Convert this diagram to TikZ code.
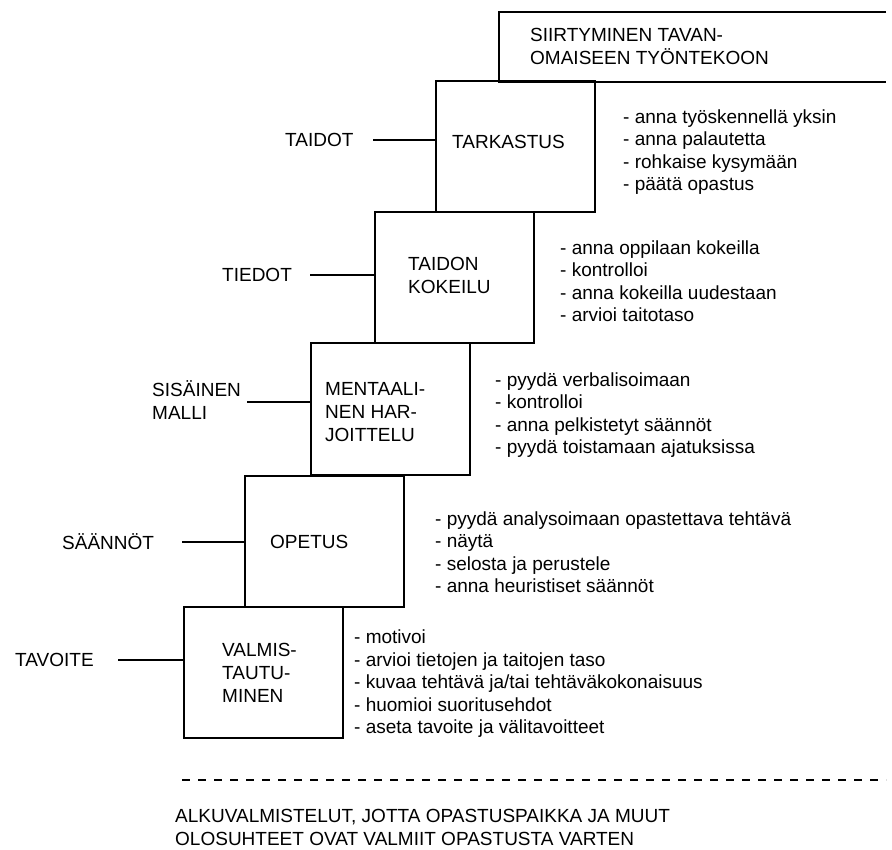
\documentclass[tikz,border=0pt]{standalone}
\usepackage{fontspec}
\setmainfont{Liberation Sans}
\begin{document}
\begin{tikzpicture}[x=1pt,y=-1pt,
  stage/.style={draw, line width=2pt, inner sep=0pt, minimum width=159pt, minimum height=131pt},
  txt/.style={anchor=west, align=left, inner sep=0pt, font=\fontsize{19}{22.5}\selectfont},
  btxt/.style={anchor=west, align=left, inner sep=0pt, font=\fontsize{19}{23}\selectfont},
  conn/.style={line width=2pt},
  dashline/.style={line width=2pt, dash pattern=on 8pt off 8pt}]
\useasboundingbox (0,0) rectangle (892,850);

% stage boxes
\node[stage] (tark) at (515.5,147) {};
\node[stage] (taid) at (454,277.5) {};
\node[stage] (ment) at (390.5,409) {};
\node[stage] (opet) at (324,541.5) {};
\node[stage] (valm) at (263.5,672.5) {};

% top open box
\coordinate (ta) at (886,12);
\coordinate (tb) at (499,12);
\coordinate (tc) at (499,82);
\coordinate (td) at (886,82);
\draw[conn] (ta) -- (tb) -- (tc) -- (td);
\node[btxt] (trans) at (530,46) {SIIRTYMINEN TAVAN-\\OMAISEEN TYÖNTEKOON};

% box labels
\node[btxt] (ltark) at (452,142) {TARKASTUS};
\node[btxt] (ltaid) at (408,275) {TAIDON\\KOKEILU};
\node[btxt] (lment) at (325,412) {MENTAALI-\\NEN HAR-\\JOITTELU};
\node[btxt] (lopet) at (270,542) {OPETUS};
\node[btxt] (lvalm) at (222,673) {VALMIS-\\TAUTU-\\MINEN};

% left labels
\node[btxt] (taidot) at (285,140) {TAIDOT};
\node[btxt] (tiedot) at (222,275) {TIEDOT};
\node[btxt] (malli) at (152,400) {SISÄINEN\\MALLI};
\node[btxt] (saannot) at (62,542) {SÄÄNNÖT};
\node[btxt] (tavoite) at (15,660) {TAVOITE};

\coordinate (s1) at (373,140);
\coordinate (s2) at (310,275);
\coordinate (s3) at (247,402);
\coordinate (s4) at (182,542);
\coordinate (s5) at (118,660);
\draw[conn] (s1) -- (s1 -| tark.west);
\draw[conn] (s2) -- (s2 -| taid.west);
\draw[conn] (s3) -- (s3 -| ment.west);
\draw[conn] (s4) -- (s4 -| opet.west);
\draw[conn] (s5) -- (s5 -| valm.west);

% right lists
\node[txt] (r1) at (623,152) {- anna työskennellä yksin\\- anna palautetta\\- rohkaise kysymään\\- päätä opastus};
\node[txt] (r2) at (560,281) {- anna oppilaan kokeilla\\- kontrolloi\\- anna kokeilla uudestaan\\- arvioi taitotaso};
\node[txt] (r3) at (495,415) {- pyydä verbalisoimaan\\- kontrolloi\\- anna pelkistetyt säännöt\\- pyydä toistamaan ajatuksissa};
\node[txt] (r4) at (435,552) {- pyydä analysoimaan opastettava tehtävä\\- näytä\\- selosta ja perustele\\- anna heuristiset säännöt};
\node[txt] (r5) at (354,684) {- motivoi\\- arvioi tietojen ja taitojen taso\\- kuvaa tehtävä ja/tai tehtäväkokonaisuus\\- huomioi suoritusehdot\\- aseta tavoite ja välitavoitteet};

% bottom
\coordinate (d1) at (182,780);
\coordinate (d2) at (886,780);
\draw[dashline] (d1) -- (d2);
\node[btxt] (alku) at (175,827) {ALKUVALMISTELUT, JOTTA OPASTUSPAIKKA JA MUUT\\OLOSUHTEET OVAT VALMIIT OPASTUSTA VARTEN};
\end{tikzpicture}
\end{document}
